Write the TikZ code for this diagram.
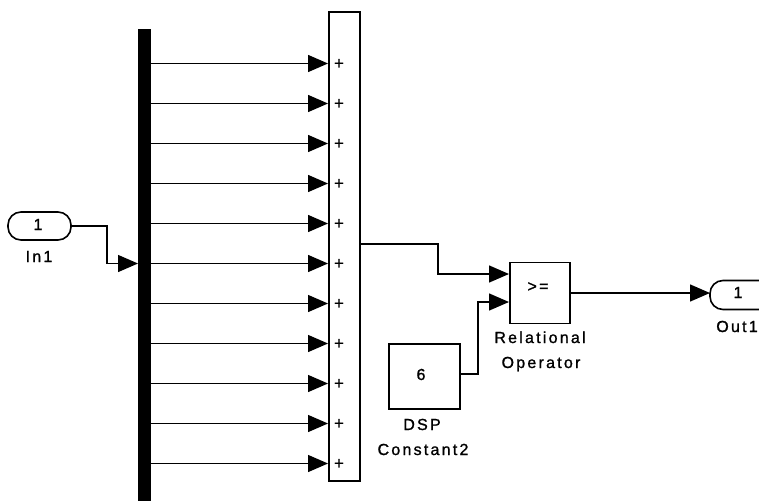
\documentclass[tikz,border=0pt]{standalone}
\usepackage{fontspec}
\setmainfont{Liberation Sans}[LetterSpace=14,FakeBold=1.2]
\usetikzlibrary{arrows.meta}
\begin{document}
\begin{tikzpicture}[x=1pt,y=-1pt,
  wire/.style={line width=1.4pt},
  arr/.style={wire,-{Triangle[length=20pt,width=17pt]}},
  blk/.style={draw,line width=1.6pt,inner sep=0pt,outer sep=0pt},
  port/.style={blk,rounded corners=13pt},
  lbl/.style={font=\fontsize{16}{20}\selectfont,inner sep=0pt},
  sgn/.style={font=\fontsize{17}{18}\selectfont,inner sep=0pt}]
\useasboundingbox (0,0) rectangle (759,500);

% demux bar
\node[fill=black,inner sep=0pt,minimum width=13pt,minimum height=480pt,anchor=north west] (bar) at (138,29) {};

% sum block
\node[blk,minimum width=31pt,minimum height=469pt,anchor=north west] (sum) at (329,12) {};

\foreach \i in {0,...,10} {
  \coordinate (s\i) at (328,{63.5+40*\i});
  \draw[arr] (bar.east |- s\i) -- (s\i);
  \node[sgn] (p\i) at (339,{64+40*\i}) {+};
}

% In1
\node[port,minimum width=63pt,minimum height=28pt] (in1) at (39.5,226) {};
\node[lbl,anchor=base] (in1n) at (38,230) {1};
\node[lbl,anchor=base] (in1l) at (39,262) {In1};
\draw[arr] (in1.east) -- ++(36,0) |- (bar.west |- s5);

% Relational operator
\node[blk,minimum width=60pt,minimum height=61pt] (rel) at (540,293) {};
\node[lbl] (relt) at (538,287) {>=};
\node[lbl,anchor=base] (rell1) at (540,343) {Relational};
\node[lbl,anchor=base] (rell2) at (541,368) {Operator};
\coordinate (r1) at (509,274);
\coordinate (r2) at (509,302);

% Constant
\node[blk,minimum width=71pt,minimum height=65pt] (const) at (424.5,376.5) {};
\node[lbl,anchor=base] (constn) at (421,380) {6};
\node[lbl,anchor=base] (constl1) at (422,430) {DSP};
\node[lbl,anchor=base] (constl2) at (423,455) {Constant2};

% Out1
\node[port,minimum width=70pt,minimum height=29pt,anchor=west] (out1) at (710,295) {};
\node[lbl,anchor=base] (out1n) at (738,298) {1};
\node[lbl,anchor=base] (out1l) at (737,332) {Out1};

% connections
\coordinate (so) at (360,244);
\draw[arr] (so) -- (438,244) |- (r1);
\coordinate (co) at (460,374);
\draw[arr] (co) -- (478,374) |- (r2);
\draw[arr] (rel.east) -- (out1.west |- rel.east);
\end{tikzpicture}
\end{document}
